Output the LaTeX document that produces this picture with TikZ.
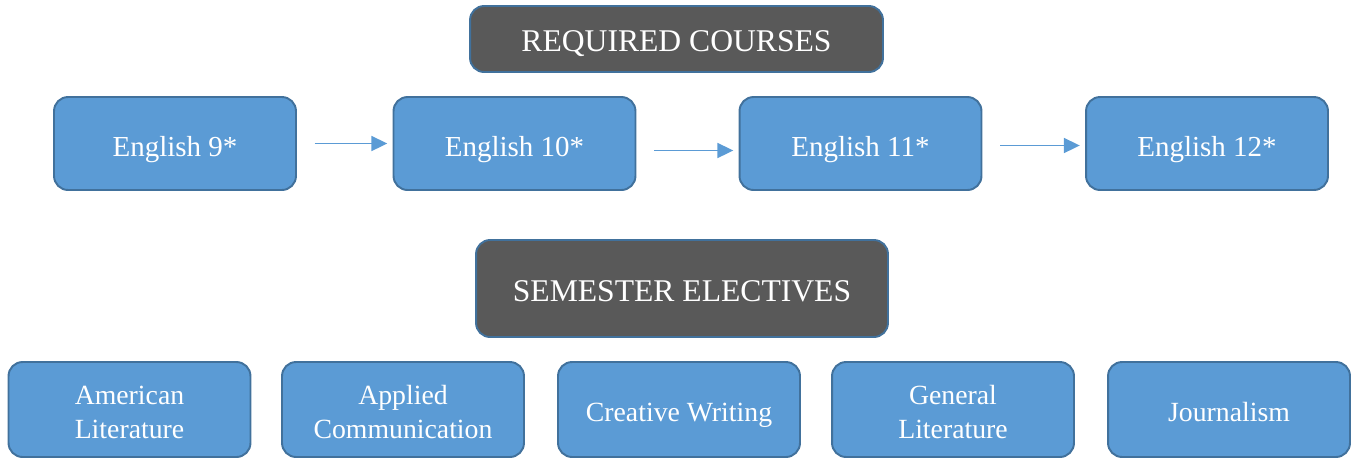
\documentclass[tikz,border=0pt]{standalone}
\usepackage{fontspec}
\setmainfont{Liberation Serif}
\usetikzlibrary{arrows.meta}
\definecolor{boxblue}{HTML}{5B9BD5}
\definecolor{edgeblue}{HTML}{41719C}
\definecolor{headgray}{HTML}{595959}
\tikzset{
  course/.style={draw=edgeblue,fill=boxblue,line width=1.1pt,rounded corners=8pt,
    minimum width=4.84cm,minimum height=1.86cm,text=white,align=center,
    text height=14.3pt,text depth=0pt,
    font=\fontsize{16.5}{19}\selectfont},
  elective/.style={course,minimum height=1.9cm,text height=13.9pt,
    font=\fontsize{15.8}{19.2}\selectfont},
  twoline/.style={elective,text height=33pt},
  heading/.style={draw=edgeblue,fill=headgray,line width=1.1pt,rounded corners=8pt,
    text=white,text height=14.2pt,text depth=0pt,font=\fontsize{18}{21}\selectfont},
  next/.style={-{Triangle[length=9pt,width=8.5pt]},draw=boxblue,line width=0.9pt,
    shorten <=10pt,shorten >=3pt}
}
\begin{document}
\begin{tikzpicture}[x=0.02cm,y=-0.02cm]
\useasboundingbox (0,0) rectangle (1352,458);
% required courses
\node[heading,minimum width=8.26cm,minimum height=1.32cm] (req) at (676.5,39) {REQUIRED COURSES};
\node[course] (e9) at (175,143.5) {English 9*};
\node[course] (e10) at (514.5,143.5) {English 10*};
\node[course] (e11) at (860.5,143.5) {English 11*};
\node[course] (e12) at (1207,143.5) {English 12*};
\draw[next] (e9) -- (e10);
\draw[next] ([yshift=-0.14cm]e10.east) -- ([yshift=-0.14cm]e11.west);
\draw[next] ([yshift=-0.04cm]e11.east) -- ([yshift=-0.04cm]e12.west);
% semester electives
\node[heading,minimum width=8.24cm,minimum height=1.94cm,text height=14.9pt] (sem) at (682,288.5) {SEMESTER ELECTIVES};
\node[twoline] (amlit) at (129.5,409.5) {American\\Literature};
\node[twoline] (appcom) at (403,409.5) {Applied\\Communication};
\node[elective] (cw) at (679,409.5) {Creative Writing};
\node[twoline] (genlit) at (953,409.5) {General\\Literature};
\node[elective] (jour) at (1229,409.5) {Journalism};
\end{tikzpicture}
\end{document}
